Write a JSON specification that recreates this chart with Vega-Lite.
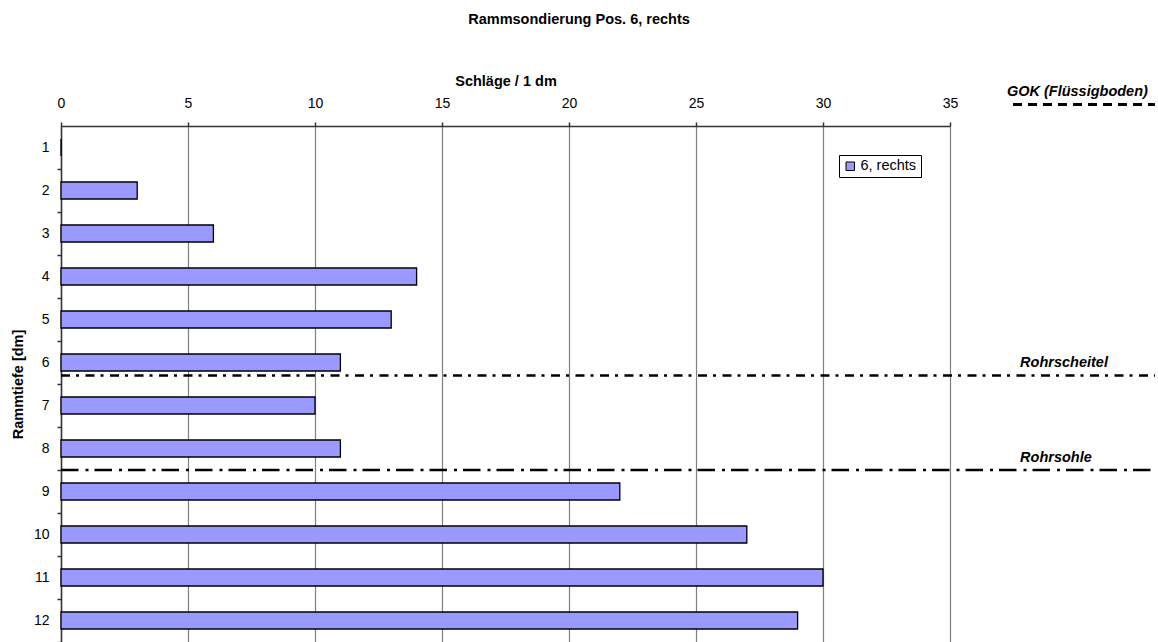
{
  "$schema": "https://vega.github.io/schema/vega-lite/v6.json",
  "width": 889,
  "height": 516,
  "autosize": {"type": "none"},
  "padding": {"left": 61, "top": 126, "right": 208, "bottom": 0},
  "background": "white",
  "title": {
    "text": "Rammsondierung Pos. 6, rechts",
    "fontSize": 14.5,
    "fontWeight": "bold",
    "font": "Liberation Sans",
    "color": "black",
    "anchor": "middle",
    "dx": 73.5,
    "offset": 46
  },
  "datasets": {
    "bars": [
      {"tiefe": 1, "schlaege": 0, "reihe": "6, rechts"},
      {"tiefe": 2, "schlaege": 3, "reihe": "6, rechts"},
      {"tiefe": 3, "schlaege": 6, "reihe": "6, rechts"},
      {"tiefe": 4, "schlaege": 14, "reihe": "6, rechts"},
      {"tiefe": 5, "schlaege": 13, "reihe": "6, rechts"},
      {"tiefe": 6, "schlaege": 11, "reihe": "6, rechts"},
      {"tiefe": 7, "schlaege": 10, "reihe": "6, rechts"},
      {"tiefe": 8, "schlaege": 11, "reihe": "6, rechts"},
      {"tiefe": 9, "schlaege": 22, "reihe": "6, rechts"},
      {"tiefe": 10, "schlaege": 27, "reihe": "6, rechts"},
      {"tiefe": 11, "schlaege": 30, "reihe": "6, rechts"},
      {"tiefe": 12, "schlaege": 29, "reihe": "6, rechts"}
    ],
    "marken": [
      {"name": "GOK (Flüssigboden)", "tiefe": 0},
      {"name": "Rohrscheitel", "tiefe": 6.3},
      {"name": "Rohrsohle", "tiefe": 8.5}
    ]
  },
  "layer": [
    {
      "data": {"name": "bars"},
      "mark": {"type": "bar", "orient": "horizontal", "height": 17, "stroke": "black", "strokeWidth": 1.3},
      "encoding": {
        "y": {
          "field": "tiefe",
          "type": "quantitative",
          "scale": {"domain": [0.5, 12.5], "reverse": true, "nice": false, "zero": false, "padding": 0},
          "axis": {
            "orient": "left",
            "title": "Rammtiefe [dm]",
            "values": [1.5, 2.5, 3.5, 4.5, 5.5, 6.5, 7.5, 8.5, 9.5, 10.5, 11.5, 12.5],
            "labelExpr": "format(datum.value - 0.5, 'd')",
            "labelOffset": -21.5,
            "grid": false,
            "tickSize": 4,
            "labelPadding": 8,
            "titlePadding": 8
          }
        },
        "x": {
          "field": "schlaege",
          "type": "quantitative",
          "scale": {"domain": [0, 35], "nice": false, "zero": true},
          "axis": {
            "orient": "top",
            "title": "Schläge / 1 dm",
            "values": [0, 5, 10, 15, 20, 25, 30, 35],
            "grid": true,
            "labelFlush": false,
            "tickSize": 4,
            "labelPadding": 12,
            "titlePadding": 8
          }
        },
        "color": {
          "field": "reihe",
          "type": "nominal",
          "scale": {"domain": ["6, rechts"], "range": ["#9999FF"]},
          "legend": {
            "title": null,
            "orient": "none",
            "legendX": 778,
            "legendY": 29,
            "symbolType": "square",
            "symbolSize": 72,
            "symbolStrokeColor": "black",
            "symbolStrokeWidth": 1,
            "symbolFillColor": "#9999FF",
            "labelFontSize": 14.5,
            "labelFont": "Liberation Sans",
            "labelColor": "black",
            "labelOffset": 3,
            "strokeColor": "black",
            "fillColor": "white",
            "padding": 4
          }
        }
      }
    },
    {
      "data": {"name": "marken"},
      "transform": [{"filter": "datum.name == 'GOK (Flüssigboden)'"}],
      "mark": {"type": "rule", "stroke": "black", "strokeWidth": 3, "strokeDash": [9, 6], "clip": false},
      "encoding": {
        "y": {"field": "tiefe", "type": "quantitative"},
        "x": {"datum": 37.48},
        "x2": {"datum": 43.07}
      }
    },
    {
      "data": {"name": "marken"},
      "transform": [{"filter": "datum.name == 'Rohrscheitel'"}],
      "mark": {"type": "rule", "stroke": "black", "strokeWidth": 2.5, "strokeDash": [9, 6, 3, 6.5], "clip": false},
      "encoding": {
        "y": {"field": "tiefe", "type": "quantitative"},
        "x": {"datum": 0},
        "x2": {"datum": 43.07}
      }
    },
    {
      "data": {"name": "marken"},
      "transform": [{"filter": "datum.name == 'Rohrsohle'"}],
      "mark": {"type": "rule", "stroke": "black", "strokeWidth": 2.5, "strokeDash": [17.5, 7, 3, 6], "clip": false},
      "encoding": {
        "y": {"field": "tiefe", "type": "quantitative"},
        "x": {"datum": 0},
        "x2": {"datum": 43.07}
      }
    },
    {
      "data": {"name": "marken"},
      "transform": [{"filter": "datum.name != 'GOK (Flüssigboden)'"}],
      "mark": {"type": "text", "align": "left", "baseline": "middle", "dy": -12, "fontSize": 14.5, "fontWeight": "bold", "fontStyle": "italic", "font": "Liberation Sans", "color": "black", "clip": false},
      "encoding": {
        "y": {"field": "tiefe", "type": "quantitative"},
        "x": {"datum": 37.76},
        "text": {"field": "name"}
      }
    },
    {
      "data": {"name": "marken"},
      "transform": [{"filter": "datum.name == 'GOK (Flüssigboden)'"}],
      "mark": {"type": "text", "align": "left", "baseline": "middle", "dy": -13, "fontSize": 14.5, "fontWeight": "bold", "fontStyle": "italic", "font": "Liberation Sans", "color": "black", "clip": false},
      "encoding": {
        "y": {"field": "tiefe", "type": "quantitative"},
        "x": {"datum": 37.24},
        "text": {"field": "name"}
      }
    }
  ],
  "config": {
    "view": {"stroke": null},
    "font": "Liberation Sans",
    "axis": {
      "labelFont": "Liberation Sans",
      "labelFontSize": 14,
      "labelColor": "black",
      "titleFont": "Liberation Sans",
      "titleFontSize": 14.5,
      "titleFontWeight": "bold",
      "titleColor": "black",
      "domainColor": "#333333",
      "domainWidth": 1.5,
      "tickColor": "#333333",
      "tickWidth": 1.5,
      "gridColor": "#808080",
      "gridWidth": 1.2,
      "gridOpacity": 1
    }
  }
}
